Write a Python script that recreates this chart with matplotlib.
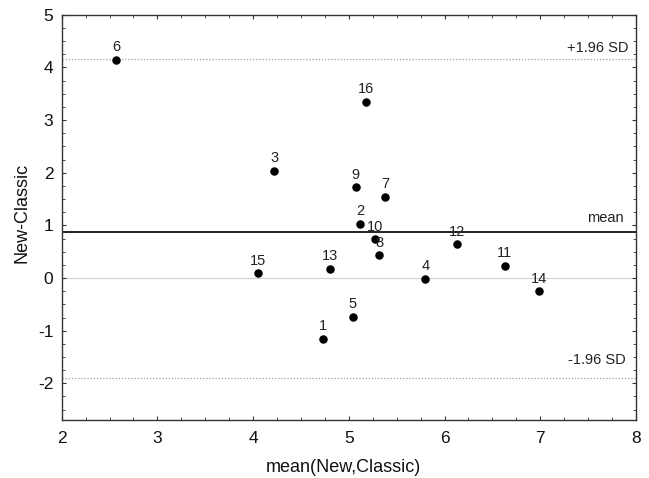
import matplotlib
matplotlib.use("Agg")
import matplotlib.pyplot as plt
from matplotlib.ticker import MultipleLocator

plt.rcParams["font.family"] = ["Liberation Sans", "DejaVu Sans"]
plt.rcParams["axes.unicode_minus"] = False

# Bland-Altman: mean vs difference, one point per case
ids = [1, 2, 3, 4, 5, 6, 7, 8, 9, 10, 11, 12, 13, 14, 15, 16]
mean_vals = [4.73, 5.12, 4.22, 5.80, 5.04, 2.57, 5.38, 5.32, 5.07, 5.27,
             6.63, 6.13, 4.80, 6.99, 4.05, 5.18]
diff_vals = [-1.15, 1.03, 2.04, -0.01, -0.74, 4.15, 1.54, 0.43, 1.72, 0.74,
             0.23, 0.64, 0.18, -0.25, 0.09, 3.35]

mean_diff = 0.88
upper_sd = 4.17
lower_sd = -1.89

fig = plt.figure(figsize=(6.49, 4.78), dpi=100)
ax = fig.add_axes([0.095, 0.121, 0.885, 0.848])

ax.axhline(0, color="#d0d0d0", lw=0.8, zorder=1)
ax.axhline(upper_sd, color="#a0a0a0", lw=0.9, ls=(0, (1, 1.5)), zorder=1)
ax.axhline(lower_sd, color="#a0a0a0", lw=0.9, ls=(0, (1, 1.5)), zorder=1)
ax.axhline(mean_diff, color="#111111", lw=1.3, zorder=2)

ax.scatter(mean_vals, diff_vals, s=26, color="black", zorder=3)
for i, x, y in zip(ids, mean_vals, diff_vals):
    ax.annotate(str(i), (x, y), xytext=(0, 9), textcoords="offset points",
                ha="center", va="center", fontsize=10.5, color="#222222")

ax.annotate("+1.96 SD", (7.92, upper_sd), xytext=(0, 7.5), textcoords="offset points",
            ha="right", va="center", fontsize=10.5, color="#222222")
ax.annotate("mean", (7.87, mean_diff), xytext=(0, 10), textcoords="offset points",
            ha="right", va="center", fontsize=10.5, color="#222222")
ax.annotate("-1.96 SD", (7.89, lower_sd), xytext=(0, 12.7), textcoords="offset points",
            ha="right", va="center", fontsize=10.5, color="#222222")

ax.set_xlim(2, 8)
ax.set_ylim(-2.7, 5)
ax.xaxis.set_major_locator(MultipleLocator(1))
ax.xaxis.set_minor_locator(MultipleLocator(0.25))
ax.yaxis.set_major_locator(MultipleLocator(1))
ax.yaxis.set_minor_locator(MultipleLocator(0.25))
ax.tick_params(which="both", direction="in", top=True, right=True,
               color="#333333", labelsize=12.5, labelcolor="#111111")
ax.tick_params(which="major", length=3)
ax.tick_params(which="minor", length=2)
ax.tick_params(axis="x", pad=8)
ax.tick_params(axis="y", pad=6)

for s in ax.spines.values():
    s.set_color("#333333")
    s.set_linewidth(1)

ax.set_xlabel("mean(New,Classic)", fontsize=13, color="#111111")
ax.set_ylabel("New-Classic", fontsize=13, color="#111111")
ax.xaxis.set_label_coords(0.49, -0.118)
ax.xaxis.label.set_va("center")
ax.yaxis.set_label_coords(-0.069, 0.511)
ax.yaxis.label.set_va("center")

fig.savefig("out.png", dpi=100)
